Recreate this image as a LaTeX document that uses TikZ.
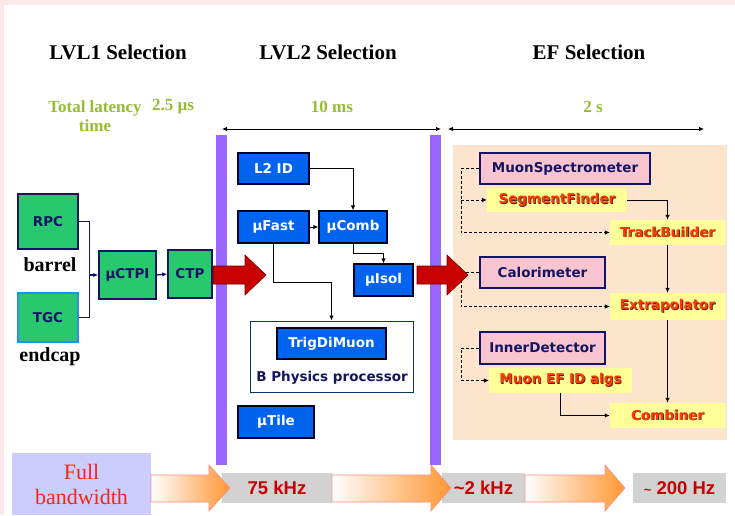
\documentclass[tikz,border=0pt]{standalone}
\usepackage{fontspec}
\setmainfont{Liberation Serif}
\newfontfamily\boxfont{DejaVu Sans}
\newfontfamily\ratefont{Liberation Sans}
\usepackage{tikz}
\usetikzlibrary{arrows.meta,calc}

\definecolor{framepink}{RGB}{251,233,233}
\definecolor{latgreen}{RGB}{150,188,50}
\definecolor{boxgreen}{RGB}{40,200,110}
\definecolor{navy}{RGB}{20,20,100}
\definecolor{tgcblue}{RGB}{40,140,255}
\definecolor{boxblue}{RGB}{0,100,240}
\definecolor{barpurple}{RGB}{153,102,255}
\definecolor{peach}{RGB}{253,228,204}
\definecolor{algpink}{RGB}{248,196,208}
\definecolor{algyellow}{RGB}{255,255,153}
\definecolor{algred}{RGB}{255,60,0}
\definecolor{algshadow}{RGB}{90,30,20}
\definecolor{arrowred}{RGB}{200,0,0}
\definecolor{lavender}{RGB}{204,204,255}
\definecolor{rategrey}{RGB}{210,210,210}
\definecolor{fullred}{RGB}{240,40,20}
\definecolor{orangetip}{RGB}{255,150,50}
\definecolor{pinkline}{RGB}{250,140,140}

\newcommand{\shadowed}[1]{\makebox[0pt][l]{\hspace{0.8pt}\raisebox{-0.8pt}{\color{algshadow}#1}}#1}
\newcommand{\ratearrow}[3]{\shade[left color=white,right color=orangetip,draw=pinkline,line width=0.6pt]
  (#1,13) -- (#2,13) -- (#2,4) -- (#3,27) -- (#2,50) -- (#2,40) -- (#1,40) -- cycle;}

\begin{document}
\begin{tikzpicture}[x=1pt,y=1pt,>={Latex[length=5pt,width=4.5pt]},
  box text/.style={font=\boxfont\bfseries\fontsize{13.5}{16}\selectfont},
  green node/.style={box text,draw=navy,line width=1.5pt,fill=boxgreen,text=navy,inner sep=0pt},
  blue node/.style={box text,draw=black!85!blue,line width=1.2pt,fill=boxblue,text=white,inner sep=0pt},
  pink node/.style={box text,draw=navy,line width=1.5pt,fill=algpink,text=navy,inner sep=0pt},
  alg node/.style={box text,fill=algyellow,text=algred,inner sep=0pt,minimum height=25pt},
  rate node/.style={fill=rategrey,text=arrowred,inner sep=0pt,minimum height=30pt,
    font=\ratefont\bfseries\fontsize{18.5}{20}\selectfont},
  sel title/.style={font=\bfseries\fontsize{21}{24}\selectfont},
  latency/.style={text=latgreen,align=center,font=\bfseries\fontsize{17}{19}\selectfont},
  wire/.style={line width=1.3pt,draw=navy},
  link/.style={line width=1pt},
  dash link/.style={line width=0.7pt,dash pattern=on 3pt off 2pt},
  red arrow/.style={fill=arrowred,draw=arrowred!60!black,line width=0.6pt}]

  % frame and backgrounds
  \fill[framepink] (0,0) rectangle (735,515);
  \fill[white] (4,0) rectangle (735,510);
  \useasboundingbox (0,0) rectangle (735,515);
  \fill[barpurple] (216,50) rectangle (227,380);
  \fill[barpurple] (430,50) rectangle (441,380);
  \fill[peach] (453,75) rectangle (727,370);

  % titles
  \node[sel title] (lvl1) at (118,463) {LVL1 Selection};
  \node[sel title] (lvl2) at (328,463) {LVL2 Selection};
  \node[sel title] (ef) at (589,463) {EF Selection};

  \node[latency] (lat) at (95,399) {Total latency\\time};
  \node[latency] (lat1) at (173,408) {2.5 µs};
  \node[latency] (lat2) at (332,408) {10 ms};
  \node[latency] (lat3) at (593,408) {2 s};

  \coordinate (t1) at (222,386);
  \coordinate (t2) at (441,386);
  \coordinate (t3) at (448,386);
  \coordinate (t4) at (704,386);
  \draw[<->,line width=0.8pt] (t1) -- (t2);
  \draw[<->,line width=0.8pt] (t3) -- (t4);

  % LVL1
  \node[green node,minimum width=60pt,minimum height=55pt] (rpc) at (48,293.5) {RPC};
  \node[sel title,font=\bfseries\fontsize{20}{22}\selectfont] (barrel) at (50,250) {barrel};
  \node[green node,draw=tgcblue,minimum width=60pt,minimum height=49pt] (tgc) at (48,197.5) {TGC};
  \node[sel title,font=\bfseries\fontsize{20}{22}\selectfont] (endcap) at (50,158) {endcap};
  \node[green node,minimum width=57pt,minimum height=48pt] (muctpi) at (127.5,240) {µCTPI};
  \node[green node,minimum width=44pt,minimum height=48pt] (ctp) at (190,241) {CTP};

  \draw[wire] (rpc.east) -- ++(11,0) coordinate (j1) |- (tgc.east);
  \draw[wire,->] (j1 |- muctpi.west) -- (muctpi.west);
  \draw[wire,->] (muctpi.east) -- (ctp.west);

  % LVL2
  \node[blue node,minimum width=71pt,minimum height=31pt] (l2id) at (273.5,346.5) {L2 ID};
  \node[blue node,minimum width=71pt,minimum height=32pt] (mufast) at (273.5,288) {µFast};
  \node[blue node,minimum width=68pt,minimum height=32pt] (mucomb) at (353,288) {µComb};
  \node[blue node,minimum width=59pt,minimum height=32pt] (muisol) at (383.5,235) {µIsol};
  \node[draw=navy!70!teal,line width=1pt,fill=white,minimum width=163pt,minimum height=71pt] (bphys) at (331.5,158.5) {};
  \node[blue node,minimum width=109pt,minimum height=31pt] (trigdimuon) at (331.5,171.5) {TrigDiMuon};
  \node[box text,text=navy] (bphystext) at (332,137) {B Physics processor};
  \node[blue node,minimum width=76pt,minimum height=32pt] (mutile) at (276,93) {µTile};

  \draw[link,->] (l2id.east) -| (mucomb.north);
  \draw[link,->] (mufast.east) -- (mucomb.west);
  \draw[link,->] (mucomb.south) -- ++(0,-10) -| (muisol.north);
  \draw[link,->] (mufast.south) -- ++(0,-39) -| (bphys.north);

  % EF
  \node[pink node,minimum width=170pt,minimum height=31pt] (muonspec) at (565,346.5) {MuonSpectrometer};
  \node[alg node,minimum width=140pt,minimum height=24pt] (segfinder) at (557,315) {\shadowed{SegmentFinder}};
  \node[alg node,minimum width=115pt] (trackbuilder) at (667.5,282.5) {\shadowed{TrackBuilder}};
  \node[pink node,minimum width=125pt,minimum height=31pt] (calo) at (542.5,242.5) {Calorimeter};
  \node[alg node,minimum width=115pt,minimum height=27pt] (extrap) at (667.5,208.5) {\shadowed{Extrapolator}};
  \node[pink node,minimum width=125pt,minimum height=32pt] (innerdet) at (542.5,167) {InnerDetector};
  \node[alg node,minimum width=143pt] (efidalgs) at (560.5,134.5) {\shadowed{Muon EF ID algs}};
  \node[alg node,minimum width=115pt] (combiner) at (667.5,99.5) {\shadowed{Combiner}};

  \draw[link,->] (segfinder.east) -| (trackbuilder.north);
  \draw[link,->] (trackbuilder.south) -- (extrap.north);
  \draw[link,->] (extrap.south) -- (combiner.north);
  \draw[link,->] (efidalgs.south) |- (combiner.west);

  \draw[dash link,->] (muonspec.west) -- ++(-18,0) coordinate (d1) |- (trackbuilder.west);
  \draw[dash link,->] (d1 |- segfinder.west) -- (segfinder.west);
  \draw[dash link,->] (calo.west) -- ++(-18,0) |- (extrap.west);
  \draw[dash link,->] (innerdet.west) -- ++(-18,0) |- (efidalgs.west);

  % big red arrows
  \draw[red arrow] (213,231) -- (245,231) -- (245,220) -- (266,240) -- (245,260) -- (245,249) -- (213,249) -- cycle;
  \draw[red arrow] (417,231) -- (447,231) -- (447,220) -- (468,240) -- (447,260) -- (447,249) -- (417,249) -- cycle;

  % bandwidth
  \node[fill=lavender,text=fullred,align=center,minimum width=139pt,minimum height=62pt,
    font=\fontsize{22}{25}\selectfont] (full) at (81.5,31) {Full\\bandwidth};
  \node[rate node,minimum width=110pt] (r1) at (277,27) {75 kHz};
  \node[rate node,minimum width=83pt] (r2) at (483.5,27) {\textasciitilde2 kHz};
  \node[rate node,minimum width=93pt] (r3) at (679.5,27) {{\fontsize{13}{14}\selectfont\textasciitilde} 200 Hz};
  \ratearrow{151}{209}{230}
  \ratearrow{332}{431}{451}
  \ratearrow{525}{605}{625}

\end{tikzpicture}
\end{document}
